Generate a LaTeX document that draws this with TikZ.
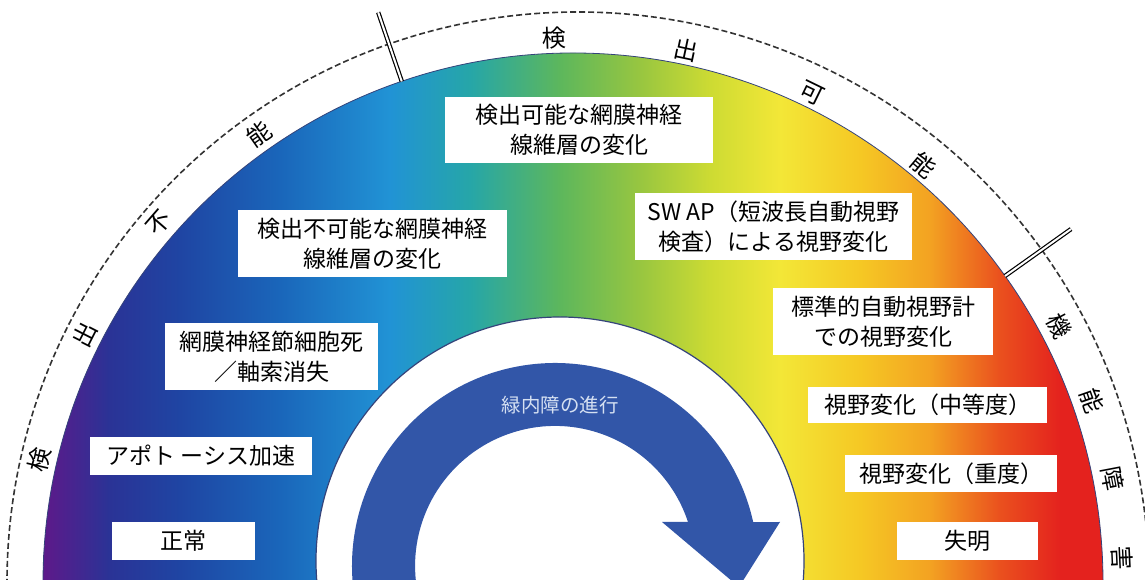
\documentclass[tikz,border=0pt]{standalone}
\usepackage{fontspec}
\setmainfont{Noto Sans CJK JP}
\usetikzlibrary{calc}
\definecolor{g0}{HTML}{5C1A8A}
\definecolor{g1}{HTML}{2A3396}
\definecolor{g2}{HTML}{1F45A3}
\definecolor{g3}{HTML}{1A66BA}
\definecolor{g4}{HTML}{2193D5}
\definecolor{g5}{HTML}{26A6A8}
\definecolor{g6}{HTML}{5DB75C}
\definecolor{g7}{HTML}{98C640}
\definecolor{g8}{HTML}{CDDB33}
\definecolor{g9}{HTML}{F3E737}
\definecolor{g10}{HTML}{F5C824}
\definecolor{g11}{HTML}{F3A222}
\definecolor{g12}{HTML}{EA501E}
\definecolor{g13}{HTML}{E4221E}
\definecolor{arrowblue}{HTML}{3256A8}
\definecolor{arrowtext}{HTML}{D5E0F2}
\definecolor{edgeblue}{HTML}{34437A}
\definecolor{dashgray}{HTML}{333333}
\pgfdeclarehorizontalshading{rainbow}{100bp}{color(0bp)=(g0); color(26.97bp)=(g0); color(29.8bp)=(g1); color(32.86bp)=(g2); color(37.23bp)=(g3); color(42.03bp)=(g4); color(45.53bp)=(g5); color(49.46bp)=(g6); color(52.95bp)=(g7); color(56.01bp)=(g8); color(59.06bp)=(g9); color(62.56bp)=(g10); color(65.61bp)=(g11); color(68.67bp)=(g12); color(71.29bp)=(g13); color(100bp)=(g13)}
\tikzset{
  lbl/.style={fill=white, inner sep=0pt, align=center, text=black,
    font=\fontsize{23}{30}\selectfont},
  arcch/.style={inner sep=0pt, text=black, font=\fontsize{24}{24}\selectfont},
  divider/.style={draw=black, line width=1.2pt, double=white, double distance=2pt},
  dashedarc/.style={draw=dashgray, line width=1.6pt, dash pattern=on 6pt off 3pt},
}
\begin{document}
\begin{tikzpicture}[x=1pt, y=1pt]
\useasboundingbox (0,0) rectangle (1145,580);
\clip (0,0) rectangle (1145,580);
\coordinate (C) at (573,-3);
\coordinate (D) at (578,-3);
\coordinate (W) at (560,19);
\coordinate (A) at (555,14);
% coloured band
\begin{scope}
  \clip (C) circle[radius=530pt];
  \shade[shading=rainbow] (0,0) rectangle (1145,580);
\end{scope}
\draw[edgeblue, line width=0.8pt] (C) circle[radius=530pt];
% inner white disc
\filldraw[fill=white, draw=edgeblue, line width=1.2pt] (W) circle[radius=244pt];
% circular arrow
\fill[arrowblue] ($(A)+(186:203pt)$) arc[start angle=186, end angle=12.5, radius=203pt]
  -- (780,58) -- (739,-7) -- (662,58) -- (688,58)
  arc[start angle=18.3, end angle=186, radius=140pt] -- cycle;
\node[text=arrowtext, font=\fontsize{19.5}{20}\selectfont, inner sep=0pt] (prog) at (560,175) {緑内障の進行};
% dashed outer arc
\draw[dashedarc] ($(D)+(182:571pt)$) arc[start angle=182, end angle=-2, radius=571pt];
% dividers
\coordinate (d1a) at ($(C)+(108.85:530pt)$);
\coordinate (d1b) at ($(C)+(108.85:603pt)$);
\coordinate (d2a) at ($(C)+(35.4:530pt)$);
\coordinate (d2b) at ($(C)+(35.4:611pt)$);
\draw[divider] (d1a) -- (d1b);
\draw[divider] (d2a) -- (d2b);
% arc characters
\foreach \a/\c [count=\i] in {167/検,153/出,139/不,125/能}
  \node[arcch, rotate=\a-90] (L\i) at ($(C)+(\a:548pt)$) {\c};
\foreach \a/\c [count=\i] in {92/検,78/出,64/可,50/能}
  \node[arcch, rotate=\a-90] (M\i) at ($(C)+(\a:545pt)$) {\c};
\foreach \a/\c [count=\i] in {27.9/機,19.3/能,10.9/障,2.6/害}
  \node[arcch, rotate=\a-90] (R\i) at ($(C)+(\a:550pt)$) {\c};
% label boxes
\node[lbl, minimum width=268pt, minimum height=66pt] (b1) at (579,450) {検出可能な網膜神経\\線維層の変化};
\node[lbl, minimum width=269pt, minimum height=67pt] (b2) at (372.5,336.5) {検出不可能な網膜神経\\線維層の変化};
\node[lbl, minimum width=277pt, minimum height=67pt] (b3) at (773.5,353.5) {SW AP（短波長自動視野\\検査）による視野変化};
\node[lbl, minimum width=220pt, minimum height=67pt] (b4) at (883,258.5) {標準的自動視野計\\での視野変化};
\node[lbl, minimum width=213pt, minimum height=67pt] (b5) at (271.5,223.5) {網膜神経節細胞死\\／軸索消失};
\node[lbl, minimum width=222pt, minimum height=38pt] (b6) at (201,124) {アポト ーシス加速};
\node[lbl, minimum width=143pt, minimum height=38pt] (b7) at (183.5,39) {正常};
\node[lbl, minimum width=239pt, minimum height=36pt] (b8) at (927.5,175) {視野変化（中等度）};
\node[lbl, minimum width=212pt, minimum height=37pt] (b9) at (951,106.5) {視野変化（重度）};
\node[lbl, minimum width=141pt, minimum height=38pt] (b10) at (967.5,39) {失明};
\end{tikzpicture}
\end{document}
